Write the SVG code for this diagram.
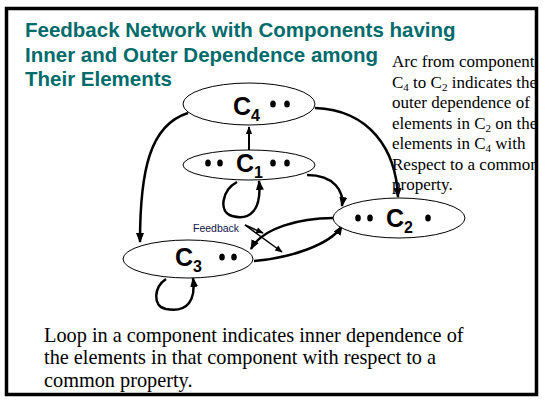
<svg xmlns="http://www.w3.org/2000/svg" width="545" height="405" viewBox="0 0 545 405">
<style>
.title{font-family:"Liberation Sans",Arial,sans-serif;font-weight:bold;font-size:20.5px;fill:#006b6b}
.serif{font-family:"Liberation Serif","Times New Roman",serif;font-size:17px;fill:#000}
.big{font-size:20.3px}
.node{fill:#fff;stroke:#000;stroke-width:1}
.lbl{font-family:"Liberation Sans",Arial,sans-serif;font-weight:bold;font-size:25px;fill:#000}
.sub{font-family:"Liberation Sans",Arial,sans-serif;font-weight:bold;font-size:16px;fill:#000}
.dot{fill:#000}
.conn{fill:none;stroke:#000;stroke-width:2.5}
.thin{fill:none;stroke:#000;stroke-width:1.5}
.fb{font-family:"Liberation Sans",Arial,sans-serif;font-size:10.5px;fill:#14144a}
</style>
<defs>
<marker id="ah" viewBox="0 0 10 10" refX="9" refY="5" markerWidth="4" markerHeight="4" orient="auto" markerUnits="strokeWidth">
<path d="M0,1 L10,5 L0,9 Z" fill="#000"/>
</marker>
<marker id="ahs" viewBox="0 0 10 10" refX="9" refY="5" markerWidth="6" markerHeight="5" orient="auto" markerUnits="strokeWidth">
<path d="M0,1 L10,5 L0,9 Z" fill="#000"/>
</marker>
<clipPath id="clip"><rect x="0" y="0" width="536" height="405"/></clipPath>
</defs>
<rect x="0" y="0" width="545" height="405" fill="#fff"/>

<g id="title">
<text class="title" x="25" y="37">Feedback Network with Components having</text>
<text class="title" x="25" y="62">Inner and Outer Dependence among</text>
<text class="title" x="25" y="86">Their Elements</text>
</g>

<g id="note-right" clip-path="url(#clip)">
<text class="serif" x="392" y="67">Arc from component</text>
<text class="serif" x="392" y="87.5">C<tspan font-size="11" dy="3">4</tspan><tspan dy="-3"> to C</tspan><tspan font-size="11" dy="3">2</tspan><tspan dy="-3"> indicates the</tspan></text>
<text class="serif" x="392" y="108">outer dependence of</text>
<text class="serif" x="392" y="128.5">elements in C<tspan font-size="11" dy="3">2</tspan><tspan dy="-3"> on the</tspan></text>
<text class="serif" x="392" y="149">elements in C<tspan font-size="11" dy="3">4</tspan><tspan dy="-3"> with</tspan></text>
<text class="serif" x="392" y="169.5">Respect to a common</text>
<text class="serif" x="392" y="190">property.</text>
</g>

<g id="connectors">
<path class="conn" d="M249,150 L249,127" marker-end="url(#ah)" style="stroke-width:2"/>
<path class="conn" d="M188,113 C150,125 140,170 140,242" marker-end="url(#ah)"/>
<path class="conn" d="M315,108 C370,110 396,150 398,197" marker-end="url(#ah)"/>
<path class="conn" d="M307,175 C335,175 344,192 342,206" marker-end="url(#ah)"/>
<path class="conn" d="M237,182 C222,190 218,212 232,216 C250,221 262,210 259,181" marker-end="url(#ah)"/>
<path class="conn" d="M166,279 C154,287 152,306 166,309 C188,313 196,300 193,278" marker-end="url(#ah)"/>
<path class="conn" d="M254,261 C290,258 330,245 342,226" marker-end="url(#ah)"/>
<path class="conn" d="M333,218 C300,218 262,228 251,249" marker-end="url(#ah)"/>
<path class="thin" d="M245,225 L282,252" marker-end="url(#ahs)"/>
<path class="thin" d="M245,225 L263,233" marker-end="url(#ahs)"/>
</g>

<g id="C4">
<ellipse class="node" cx="249" cy="104" rx="66" ry="21"/>
<text class="lbl" x="233" y="115">C</text><text class="sub" x="251" y="121">4</text>
<ellipse class="dot" cx="273" cy="104" rx="2.8" ry="3.5"/><ellipse class="dot" cx="287" cy="104" rx="2.8" ry="3.5"/>
</g>
<g id="C1">
<ellipse class="node" cx="249" cy="165" rx="66" ry="15"/>
<ellipse class="dot" cx="208" cy="163" rx="2.8" ry="3.5"/><ellipse class="dot" cx="220" cy="163" rx="2.8" ry="3.5"/>
<text class="lbl" x="236" y="172">C</text><text class="sub" x="254" y="178">1</text>
<ellipse class="dot" cx="273" cy="163" rx="2.8" ry="3.5"/><ellipse class="dot" cx="287" cy="163" rx="2.8" ry="3.5"/>
</g>
<g id="C2">
<ellipse class="node" cx="399" cy="218" rx="66" ry="20"/>
<ellipse class="dot" cx="358" cy="218" rx="2.8" ry="3.5"/><ellipse class="dot" cx="370" cy="218" rx="2.8" ry="3.5"/>
<text class="lbl" x="386" y="227">C</text><text class="sub" x="404" y="233">2</text>
<ellipse class="dot" cx="428" cy="218" rx="2.8" ry="3.5"/>
</g>
<g id="C3">
<ellipse class="node" cx="188" cy="259" rx="65" ry="19"/>
<text class="lbl" x="175" y="266">C</text><text class="sub" x="193" y="272">3</text>
<ellipse class="dot" cx="222" cy="257" rx="2.8" ry="3.5"/><ellipse class="dot" cx="234" cy="257" rx="2.8" ry="3.5"/>
</g>
<g id="feedback-label">
<text class="fb" x="193" y="232">Feedback</text>
</g>

<g id="note-bottom">
<text class="serif big" x="44" y="342">Loop in a component indicates inner dependence of</text>
<text class="serif big" x="44" y="364">the elements in that component with respect to a</text>
<text class="serif big" x="44" y="387">common property.</text>
</g>

<rect x="6.5" y="8.5" width="530" height="386" fill="none" stroke="#000" stroke-width="3.5"/>
</svg>
